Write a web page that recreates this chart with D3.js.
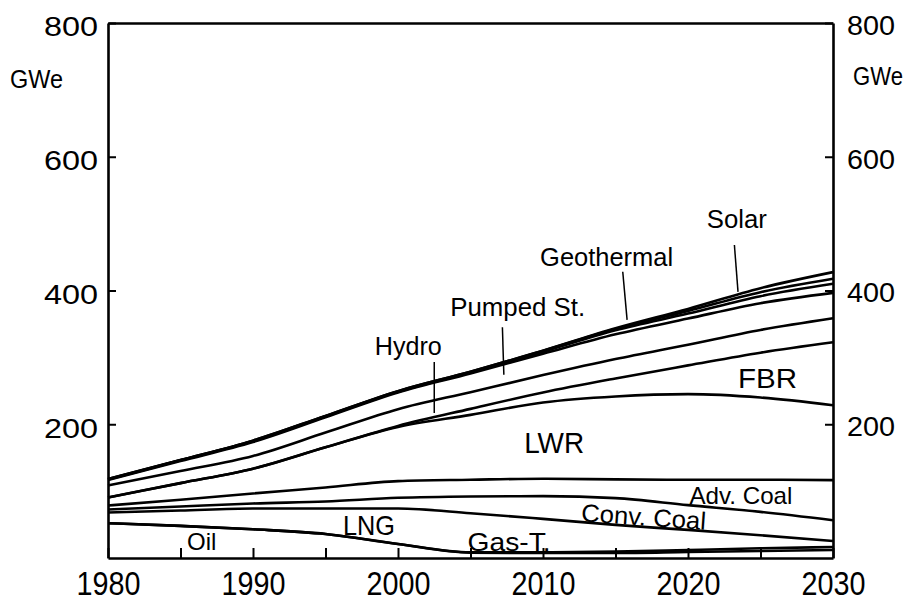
<!DOCTYPE html>
<html>
<head>
<meta charset="utf-8">
<script src="https://cdn.jsdelivr.net/npm/d3@7"></script>
<style>
  body { margin: 0; background: #fff; }
  svg { display: block; }
  text { font-family: "Liberation Sans", Arial, sans-serif; fill: #000; }
</style>
</head>
<body>
<svg id="chart" width="911" height="604"></svg>
<script>
// values (GWe per layer, stacked bottom to top)
var years      = [1980, 1985, 1990, 1995, 2000, 2005, 2010, 2015, 2020, 2025, 2030];
var oil        = [52, 48, 43, 36, 21, 8, 7.5, 7.5, 9, 10.5, 12];
var gasT       = [0, 0, 0, 0, 0, 0.5, 1, 2, 3, 4, 4.5];
var lng        = [16, 23, 31, 38, 53, 58.5, 50, 40, 30, 19.5, 9];
var convCoal   = [4.5, 6, 7.5, 10.5, 16, 25, 34, 40, 37, 35, 31];
var advCoal    = [6, 10, 15, 21, 25, 25, 26, 28, 38, 48, 60];
var lwr        = [12, 25, 37, 60, 81, 97, 114, 124, 128, 123, 112];
var fbr        = [0, 0, 0, 0, 1.5, 9, 15, 27, 43, 67, 94];
var hydro      = [18, 18, 19, 22, 25, 25, 26, 29, 31, 34, 36];
var pumped     = [8, 15, 21, 23, 25, 28, 32, 37, 39, 40, 38];
var other      = [1, 1, 1, 1, 1, 1.5, 3, 6, 7.5, 10.5, 13.5];
var geothermal = [0.5, 0.5, 1, 1, 1, 1, 1.5, 2, 4, 6, 7.5];
var solar      = [0, 0, 0, 0, 0, 0, 0, 1, 3, 6, 10];

var layerNames = ["Oil", "Gas-T.", "LNG", "Conv. Coal", "Adv. Coal", "LWR", "FBR",
                  "Hydro", "Pumped St.", "Other", "Geothermal", "Solar"];
var layerValues = [oil, gasT, lng, convCoal, advCoal, lwr, fbr,
                   hydro, pumped, other, geothermal, solar];

var yTickValues = [200, 400, 600, 800];
var xTickValues = [1980, 1985, 1990, 1995, 2000, 2005, 2010, 2015, 2020, 2025, 2030];

// label text, year, GWe, font size, rotation, text length
var labels = [
  ["Oil", 1985.45, 12, 24, 0, null],
  ["LNG", 1996.2, 34, 28, 0, 52],
  ["Gas-T.", 2004.8, 11, 26, 0, 83],
  ["Conv. Coal", 2012.6, 55, 25, 4, 125],
  ["Adv. Coal", 2020.1, 81, 24, 0, 103],
  ["LWR", 2008.7, 157, 30, 0, 60],
  ["FBR", 2023.45, 254, 28, 0, 59],
  ["Hydro", 1998.4, 304, 25, 0, 67],
  ["Pumped  St.", 2003.6, 362, 25, 0, 135],
  ["Geothermal", 2009.8, 437, 26, 0, 133],
  ["Solar", 2021.3, 493, 25, 0, 60]
];
// pointer lines: [year1, value1, year2, value2]
var pointers = [
  [2002.5, 293, 2002.5, 217],
  [2007.2, 345, 2007.3, 274],
  [2015.5, 428, 2015.8, 356],
  [2023.2, 468, 2023.45, 398]
];

var table = years.map(function(yr, i) {
  var row = { year: yr };
  layerNames.forEach(function(n, j) { row[n] = layerValues[j][i]; });
  return row;
});

var svg = d3.select("#chart");
var x = d3.scaleLinear().domain([1980, 2030]).range([108, 833]);
var y = d3.scaleLinear().domain([0, 800]).range([558, 23]);

var series = d3.stack().keys(layerNames)(table);

var line = d3.line()
    .x(function(d) { return x(d.data.year); })
    .y(function(d) { return y(d[1]); })
    .curve(d3.curveMonotoneX);

svg.append("g").selectAll("path")
  .data(series)
  .enter().append("path")
    .attr("d", line)
    .attr("fill", "none")
    .attr("stroke", "#000")
    .attr("stroke-width", 2.6);

// frame + axes
function styleAxis(g) {
  g.selectAll(".domain").attr("stroke", "#000").attr("stroke-width", 2.6);
  g.selectAll(".tick line").attr("stroke", "#000").attr("stroke-width", 2);
}

var leftAxis = svg.append("g").attr("transform", "translate(" + x(1980) + ",0)")
  .call(d3.axisLeft(y).tickValues(yTickValues).tickSizeInner(-8).tickSizeOuter(0).tickPadding(10));
leftAxis.call(styleAxis);
leftAxis.selectAll("text").attr("font-size", 28).attr("dy", "0.46em")
  .attr("textLength", 54).attr("lengthAdjust", "spacingAndGlyphs");

var rightAxis = svg.append("g").attr("transform", "translate(" + x(2030) + ",0)")
  .call(d3.axisRight(y).tickValues(yTickValues).tickSizeInner(-8).tickSizeOuter(0).tickPadding(14));
rightAxis.call(styleAxis);
rightAxis.selectAll("text").attr("font-size", 27).attr("dy", "0.42em")
  .attr("textLength", 48).attr("lengthAdjust", "spacingAndGlyphs");

var bottomAxis = svg.append("g").attr("transform", "translate(0," + y(0) + ")")
  .call(d3.axisBottom(x).tickValues(xTickValues).tickSizeInner(-10).tickSizeOuter(0).tickPadding(13)
    .tickFormat(function(d) { return d % 10 === 0 ? d : ""; }));
bottomAxis.call(styleAxis);
bottomAxis.selectAll("text").attr("font-size", 34)
  .attr("textLength", function(d) { return d % 10 === 0 ? 64 : null; })
  .attr("lengthAdjust", "spacingAndGlyphs");

var topAxis = svg.append("g").attr("transform", "translate(0," + y(800) + ")")
  .call(d3.axisTop(x).tickValues([]).tickSizeOuter(0));
topAxis.call(styleAxis);

// unit labels
svg.append("text").attr("x", 10).attr("y", 88).attr("font-size", 26)
  .attr("textLength", 53).attr("lengthAdjust", "spacingAndGlyphs").text("GWe");
svg.append("text").attr("x", 853).attr("y", 85).attr("font-size", 26)
  .attr("textLength", 50).attr("lengthAdjust", "spacingAndGlyphs").text("GWe");

// series labels
labels.forEach(function(l) {
  var t = svg.append("text")
    .attr("x", x(l[1])).attr("y", y(l[2]))
    .attr("font-size", l[3])
    .text(l[0]);
  if (l[4]) t.attr("transform", "rotate(" + l[4] + "," + x(l[1]) + "," + y(l[2]) + ")");
  if (l[5]) t.attr("textLength", l[5]).attr("lengthAdjust", "spacingAndGlyphs");
});

svg.append("g").selectAll("line")
  .data(pointers)
  .enter().append("line")
    .attr("x1", function(d) { return x(d[0]); })
    .attr("y1", function(d) { return y(d[1]); })
    .attr("x2", function(d) { return x(d[2]); })
    .attr("y2", function(d) { return y(d[3]); })
    .attr("stroke", "#000")
    .attr("stroke-width", 1.5);
</script>
</body>
</html>
